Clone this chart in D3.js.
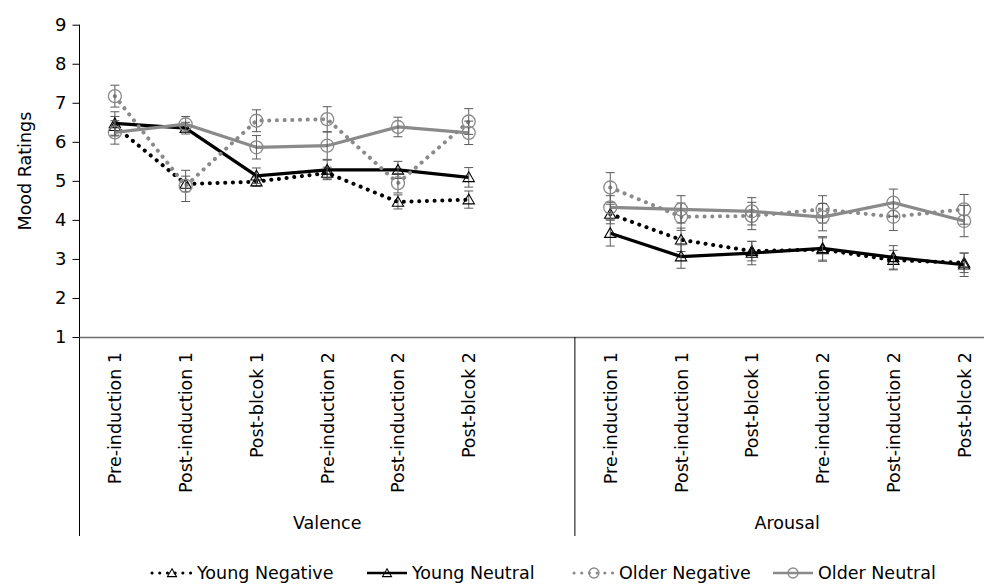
<!DOCTYPE html>
<html>
<head>
<meta charset="utf-8">
<script src="https://cdn.jsdelivr.net/npm/d3@7"></script>
<style>
  body { margin: 0; background: #fff; }
  text { font-family: "DejaVu Sans", Verdana, sans-serif; fill: #000; }
</style>
</head>
<body>
<div id="chart"></div>
<script>
var width = 984, height = 584;

// categories
var cats = ["Pre-induction 1", "Post-induction 1", "Post-blcok 1", "Pre-induction 2", "Post-induction 2", "Post-blcok 2"];
var groups = ["Valence", "Arousal"];
var yTicks = [1, 2, 3, 4, 5, 6, 7, 8, 9];

// means (valence, arousal)
var youngNegVal = [6.40, 4.92, 4.98, 5.20, 4.46, 4.52];
var youngNegAro = [4.15, 3.49, 3.20, 3.24, 2.97, 2.90];
var youngNeuVal = [6.47, 6.35, 5.13, 5.28, 5.28, 5.09];
var youngNeuAro = [3.66, 3.06, 3.15, 3.27, 3.04, 2.85];
var olderNegVal = [7.17, 4.87, 6.54, 6.58, 4.94, 6.52];
var olderNegAro = [4.83, 4.08, 4.10, 4.27, 4.08, 4.27];
var olderNeuVal = [6.24, 6.45, 5.86, 5.90, 6.38, 6.23];
var olderNeuAro = [4.32, 4.27, 4.22, 4.07, 4.44, 3.97];

// standard errors
var youngNegValErr = [0.25, 0.20, 0.12, 0.15, 0.18, 0.22];
var youngNegAroErr = [0.25, 0.30, 0.25, 0.30, 0.25, 0.25];
var youngNeuValErr = [0.30, 0.15, 0.20, 0.25, 0.22, 0.25];
var youngNeuAroErr = [0.33, 0.30, 0.30, 0.30, 0.30, 0.30];
var olderNegValErr = [0.28, 0.40, 0.28, 0.32, 0.25, 0.33];
var olderNegAroErr = [0.38, 0.35, 0.35, 0.35, 0.35, 0.38];
var olderNeuValErr = [0.30, 0.20, 0.30, 0.35, 0.25, 0.30];
var olderNeuAroErr = [0.30, 0.35, 0.35, 0.35, 0.35, 0.40];

var seriesNames = ["Young Negative", "Young Neutral", "Older Negative", "Older Neutral"];

// build 13 slots: 6 valence + 1 blank + 6 arousal
var keys = [];
cats.forEach(function(c){ keys.push("V|" + c); });
keys.push("V|blank");
cats.forEach(function(c){ keys.push("A|" + c); });

function join(v, a){ return v.concat([null]).concat(a); }

var series = [
  {name: seriesNames[0], vals: join(youngNegVal, youngNegAro), errs: join(youngNegValErr, youngNegAroErr), color: "#000", dotted: true, marker: "tri"},
  {name: seriesNames[1], vals: join(youngNeuVal, youngNeuAro), errs: join(youngNeuValErr, youngNeuAroErr), color: "#000", dotted: false, marker: "tri"},
  {name: seriesNames[2], vals: join(olderNegVal, olderNegAro), errs: join(olderNegValErr, olderNegAroErr), color: "#8a8a8a", dotted: true, marker: "circ"},
  {name: seriesNames[3], vals: join(olderNeuVal, olderNeuAro), errs: join(olderNeuValErr, olderNeuAroErr), color: "#8a8a8a", dotted: false, marker: "circ"}
];

var svg = d3.select("#chart").append("svg")
  .attr("width", width).attr("height", height);

var x = d3.scaleBand().domain(keys).range([79.5, 999.5]).padding(0);
var y = d3.scaleLinear().domain([1, 9]).range([337, 24.7]);

// y axis
var yAxis = svg.append("g").attr("transform", "translate(79.5,0)")
  .call(d3.axisLeft(y).tickValues(yTicks).tickSize(7).tickPadding(6));
yAxis.select(".domain").remove();
yAxis.selectAll(".tick line").attr("stroke", "#000");
yAxis.selectAll(".tick text").style("font-size", "18px").style("font-family", "DejaVu Sans");
svg.append("line").attr("x1", 79.5).attr("x2", 79.5).attr("y1", y(9)).attr("y2", 536)
  .attr("stroke", "#000");

svg.append("text").attr("transform", "translate(25," + y(5.25) + ") rotate(-90)")
  .attr("text-anchor", "middle").attr("dy", "0.35em")
  .style("font-size", "17.5px").text("Mood Ratings");

// x axis line
svg.append("line").attr("x1", 79.5).attr("x2", 999).attr("y1", 337.5).attr("y2", 337.5)
  .attr("stroke", "#6e6e6e").attr("stroke-width", 1.5);

// group divider
var divX = x("A|" + cats[0]);
svg.append("line").attr("x1", divX).attr("x2", divX).attr("y1", 337).attr("y2", 536)
  .attr("stroke", "#000");

// category labels
svg.append("g").selectAll("text").data(keys.filter(function(k){ return k.indexOf("blank") < 0; }))
  .enter().append("text")
  .attr("transform", function(k){ return "translate(" + (x(k) + x.bandwidth() / 2 + 6.5) + ",352) rotate(-90)"; })
  .attr("text-anchor", "end")
  .style("font-size", "17.5px")
  .text(function(k){ return k.split("|")[1]; });

// group labels
svg.append("text").attr("x", (79.5 + divX) / 2).attr("y", 529).attr("text-anchor", "middle")
  .style("font-size", "17.5px").text(groups[0]);
svg.append("text").attr("x", (divX + 999.5) / 2).attr("y", 529).attr("text-anchor", "middle")
  .style("font-size", "17.5px").text(groups[1]);

var line = d3.line()
  .defined(function(d){ return d.v !== null; })
  .x(function(d){ return x(d.k) + x.bandwidth() / 2; })
  .y(function(d){ return y(d.v); });

function pts(s){
  return keys.map(function(k, i){ return {k: k, v: s.vals[i], e: s.errs[i]}; });
}

function styleLine(sel, s){
  sel.attr("fill", "none").attr("stroke", s.color).attr("stroke-width", 3.2);
  if (s.dotted) sel.attr("stroke-dasharray", "0.1 7.6").attr("stroke-linecap", "round").attr("stroke-width", 4);
  return sel;
}

function drawMarker(g, s, cx, cy, sz){
  if (s.marker === "tri"){
    g.append("path")
      .attr("d", d3.symbol().type(d3.symbolTriangle).size(sz || 55))
      .attr("transform", "translate(" + cx + "," + (cy + 1) + ")")
      .attr("fill", "none").attr("stroke", "#000").attr("stroke-width", 1.1);
  } else {
    g.append("circle").attr("cx", cx).attr("cy", cy).attr("r", sz ? 5 : 6.5)
      .attr("fill", "none").attr("stroke", "#8a8a8a").attr("stroke-width", 1.3);
  }
}

series.forEach(function(s){
  var g = svg.append("g");
  styleLine(g.append("path").datum(pts(s)), s).attr("d", line);
  // error bars
  pts(s).filter(function(d){ return d.v !== null; }).forEach(function(d){
    var cx = x(d.k) + x.bandwidth() / 2;
    g.append("line").attr("x1", cx).attr("x2", cx).attr("y1", y(d.v + d.e)).attr("y2", y(d.v - d.e))
      .attr("stroke", "#5a5a5a").attr("stroke-width", 1);
    [d.v + d.e, d.v - d.e].forEach(function(ev){
      g.append("line").attr("x1", cx - 4.5).attr("x2", cx + 4.5).attr("y1", y(ev)).attr("y2", y(ev))
        .attr("stroke", "#5a5a5a").attr("stroke-width", 1);
    });
    drawMarker(g, s, cx, y(d.v));
  });
});

// legend
var legendX = [152, 367, 574, 773];
var legend = svg.append("g");
series.forEach(function(s, i){
  var lx = legendX[i], ly = 573;
  var lg = legend.append("g");
  styleLine(lg.append("line").attr("x1", lx).attr("x2", lx + 40).attr("y1", ly).attr("y2", ly), s)
    .attr("stroke-width", s.dotted ? 3 : 2.4);
  drawMarker(lg, s, lx + 20, ly, 35);
  lg.append("text").attr("x", lx + 45).attr("y", ly).attr("dy", "0.36em")
    .style("font-size", "17.5px").text(s.name);
});
</script>
</body>
</html>
